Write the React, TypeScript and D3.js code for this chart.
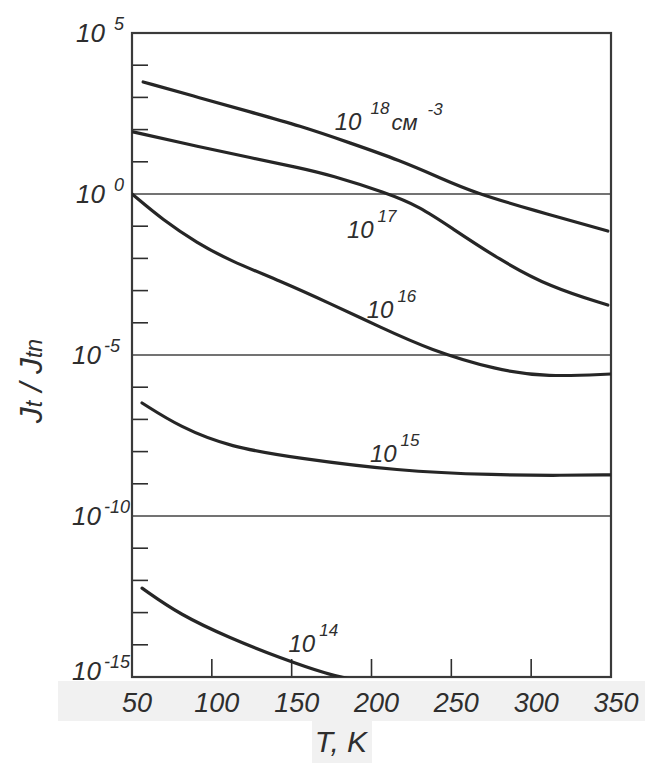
import React, { useEffect, useRef } from "react";
import * as d3 from "d3";

// temperatures (K) and log10(Jt/Jtn), one pair per curve
const temps18 = [57, 93, 124, 155, 187, 218, 243, 264, 301, 348];
const logJ18 = [3.48, 2.98, 2.55, 2.12, 1.58, 1.04, 0.5, 0.05, -0.5, -1.15];

const temps17 = [50.6, 92.6, 123.9, 155.2, 174, 209.7, 230.3, 249.1, 280.4, 311.7, 348];
const logJ17 = [1.93, 1.46, 1.13, 0.81, 0.59, 0.03, -0.4, -1.02, -2.05, -2.89, -3.45];

const temps16 = [50, 69.4, 90.7, 111.4, 142.7, 174, 205.3, 236.6, 278.6, 309.9, 350];
const logJ16 = [0, -0.81, -1.52, -2.07, -2.7, -3.4, -4.13, -4.84, -5.47, -5.68, -5.59];

const temps15 = [56.3, 80.1, 111.4, 153.3, 215.9, 278.6, 319.9, 350];
const logJ15 = [-6.49, -7.24, -7.86, -8.2, -8.6, -8.73, -8.74, -8.72];

const temps14 = [56.3, 80.1, 111.4, 142.7, 174, 186];
const logJ14 = [-12.24, -13.07, -13.79, -14.41, -14.94, -15.05];

const xTicks = [50, 100, 150, 200, 250, 300, 350];
const yLabelExps = [5, 0, -5, -10, -15];
const gridExps = [0, -5, -10];

// curve labels: exponent text, anchor in data units (T, log10 value)
const labelText = ["18", "17", "16", "15", "14"];
const labelT = [177, 184.6, 197, 199, 148];
const labelLog = [1.99, -1.37, -3.85, -8.32, -14.22];

const W = 645;
const H = 764;
const margin = { left: 132, right: 34, top: 33, bottom: 87 };
const ink = "#2e2e2e";
const font = "'Liberation Sans', Arial, sans-serif";

function App() {
  const ref = useRef(null);

  useEffect(() => {
    const svg = d3.select(ref.current);
    svg.selectAll("*").remove();

    const x = d3.scaleLinear().domain([50, 350]).range([margin.left, W - margin.right]);
    const y = d3.scaleLog().domain([1e-15, 1e5]).range([H - margin.bottom, margin.top]);
    const x0 = x(50), x1 = x(350), yTop = y(1e5), yBot = y(1e-15);

    svg.append("rect").attr("width", W).attr("height", H).attr("fill", "#fff");
    // scanned page shading under the axis
    svg.append("rect").attr("x", 58).attr("y", yBot + 4).attr("width", W - 58).attr("height", 40).attr("fill", "#f1f1f1");
    svg.append("rect").attr("x", 312).attr("y", yBot + 44).attr("width", 60).attr("height", 42).attr("fill", "#f1f1f1");

    svg.append("clipPath").attr("id", "plot")
      .append("rect").attr("x", x0).attr("y", yTop).attr("width", x1 - x0).attr("height", yBot - yTop);

    // minor decade ticks on left axis
    const decades = d3.range(-14, 5).filter(e => !gridExps.includes(e));
    svg.selectAll("line.ytick").data(decades).enter().append("line")
      .attr("x1", x0).attr("x2", x0 + 16)
      .attr("y1", d => y(Math.pow(10, d))).attr("y2", d => y(Math.pow(10, d)))
      .attr("stroke", ink).attr("stroke-width", 1.6);

    // horizontal rules
    svg.selectAll("line.grid").data(gridExps).enter().append("line")
      .attr("x1", x0).attr("x2", x1)
      .attr("y1", d => y(Math.pow(10, d))).attr("y2", d => y(Math.pow(10, d)))
      .attr("stroke", "#444").attr("stroke-width", 1.6);

    // x ticks
    svg.selectAll("line.xtick").data(xTicks.slice(1, -1)).enter().append("line")
      .attr("x1", d => x(d)).attr("x2", d => x(d))
      .attr("y1", yBot).attr("y2", yBot - 18)
      .attr("stroke", ink).attr("stroke-width", 1.6);

    // frame
    svg.append("rect").attr("x", x0).attr("y", yTop).attr("width", x1 - x0).attr("height", yBot - yTop)
      .attr("fill", "none").attr("stroke", "#3a3a3a").attr("stroke-width", 2.2);

    const line = d3.line().curve(d3.curveBasis)
      .x(d => x(d[0])).y(d => y(Math.pow(10, d[1])));

    const series = [
      [temps18, logJ18],
      [temps17, logJ17],
      [temps16, logJ16],
      [temps15, logJ15],
      [temps14, logJ14]
    ];
    const g = svg.append("g").attr("clip-path", "url(#plot)");
    series.forEach(([ts, vs]) => {
      g.append("path")
        .attr("d", line(ts.map((t, i) => [t, vs[i]])))
        .attr("fill", "none").attr("stroke", "#262626").attr("stroke-width", 3.2)
        .attr("stroke-linecap", "round");
    });

    // curve labels
    labelText.forEach((s, i) => {
      const t = svg.append("text")
        .attr("x", x(labelT[i])).attr("y", y(Math.pow(10, labelLog[i])))
        .attr("font-family", font).attr("font-style", "italic")
        .attr("font-size", 24).attr("fill", ink);
      t.append("tspan").text("10");
      t.append("tspan").attr("dx", i === 0 ? 9 : 4).attr("dy", -16).attr("font-size", 17).text(s);
      if (i === 0) {
        t.append("tspan").attr("dx", 2).attr("dy", 16).attr("font-size", 22).text("см");
        t.append("tspan").attr("dx", 10).attr("dy", -15).attr("font-size", 17).text("-3");
      }
    });

    // y tick labels
    yLabelExps.forEach(e => {
      const yy = y(Math.pow(10, e)) + (e === -15 ? -6 : 0);
      const t = svg.append("text")
        .attr("x", e >= 0 ? 76 : 72).attr("y", yy + 9)
        .attr("font-family", font).attr("font-style", "italic")
        .attr("font-size", 26).attr("fill", ink);
      t.append("tspan").text("10");
      t.append("tspan").attr("dx", e >= 0 ? 9 : 3).attr("dy", -12).attr("font-size", 18).text(String(e));
    });

    // x tick labels
    svg.selectAll("text.xl").data(xTicks).enter().append("text")
      .attr("x", d => x(d) + 5).attr("y", yBot + 35)
      .attr("text-anchor", "middle")
      .attr("font-family", font).attr("font-style", "italic")
      .attr("font-size", 27).attr("fill", ink)
      .text(d => d);

    // axis titles
    svg.append("text")
      .attr("x", 341).attr("y", yBot + 75)
      .attr("text-anchor", "middle")
      .attr("font-family", font).attr("font-style", "italic")
      .attr("font-size", 30).attr("fill", ink)
      .text("T, K");

    const yt = svg.append("text")
      .attr("transform", "translate(42,381) rotate(-90)")
      .attr("text-anchor", "middle")
      .attr("font-family", font).attr("font-style", "italic")
      .attr("font-size", 32).attr("fill", ink);
    yt.append("tspan").text("J");
    yt.append("tspan").attr("font-size", 23).text("t");
    yt.append("tspan").text(" / J");
    yt.append("tspan").attr("font-size", 23).text("tn");
  }, []);

  return (
    <div style={{ position: "absolute", left: 0, top: 0 }}>
      <svg ref={ref} width={W} height={H} style={{ display: "block" }} />
    </div>
  );
}

export default App;
